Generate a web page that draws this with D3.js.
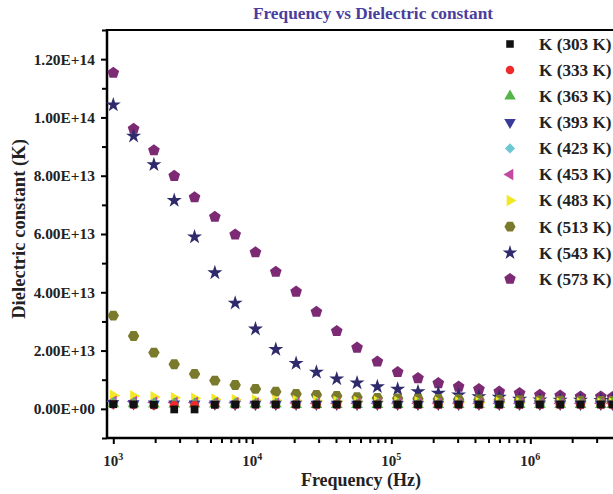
<!DOCTYPE html>
<html>
<head>
<meta charset="utf-8">
<script src="https://cdn.jsdelivr.net/npm/d3@7"></script>
<style>
  body { margin: 0; background: #fff; }
  svg text { font-family: "Times New Roman", "Liberation Serif", serif; font-weight: bold; }
</style>
</head>
<body>
<script>
(function(){

    //frequency points (Hz)
    var freqs = [1000, 1400, 1960, 2744, 3842, 5378, 7530, 10541, 14758, 20661, 28925, 40496, 56694,
        79371, 111120, 155568, 217795, 304913, 426879, 597630, 836683, 1171356, 1639898, 2295857, 3214200, 3900000];

    //dielectric constant values, in units of 1e12
    var UNIT = 1e12;
    var k303 = [1.6, 1.5, 1.4, -0.2, -0.2, 1.4, 1.5, 1.5, 1.5, 1.5, 1.5, 1.5, 1.5, 1.5, 1.5, 1.5, 1.5, 1.5, 1.5, 1.5, 1.5, 1.5, 1.5, 1.5, 1.5, 1.5];
    var k333 = [1.5, 1.4, 1.2, 1.3, 1.3, 1.4, 1.4, 1.4, 1.4, 1.4, 1.4, 1.4, 1.4, 1.4, 1.4, 1.4, 1.4, 1.4, 1.4, 1.4, 1.4, 1.4, 1.4, 1.4, 1.4, 1.4];
    var k363 = [1.7, 1.7, 1.6, 1.6, 1.6, 1.6, 1.6, 1.6, 1.6, 1.5, 1.5, 1.5, 1.5, 1.5, 1.5, 1.5, 1.5, 1.5, 1.5, 1.5, 1.5, 1.5, 1.5, 1.5, 1.5, 1.5];
    var k393 = [1.9, 1.8, 1.7, 1.7, 1.7, 1.7, 1.6, 1.6, 1.6, 1.6, 1.6, 1.6, 1.6, 1.6, 1.6, 1.6, 1.6, 1.6, 1.6, 1.6, 1.6, 1.6, 1.6, 1.6, 1.6, 1.6];
    var k423 = [2.2, 2.1, 2.0, 1.9, 1.9, 1.8, 1.8, 1.8, 1.8, 1.7, 1.7, 1.7, 1.7, 1.7, 1.7, 1.7, 1.7, 1.7, 1.7, 1.7, 1.7, 1.7, 1.7, 1.7, 1.7, 1.7];
    var k453 = [2.6, 2.5, 2.3, 2.2, 2.2, 2.1, 2.1, 2.0, 2.0, 2.0, 1.9, 1.9, 1.9, 1.9, 1.9, 1.9, 1.9, 1.9, 1.9, 1.9, 1.9, 1.9, 1.9, 1.9, 1.9, 1.9];
    var k483 = [4.6, 4.4, 4.1, 3.8, 3.6, 3.3, 3.1, 3.0, 2.9, 2.8, 2.7, 2.6, 2.5, 2.5, 2.4, 2.4, 2.3, 2.3, 2.2, 2.2, 2.1, 2.1, 2.0, 2.0, 2.0, 2.0];
    var k513 = [32.0, 25.0, 19.3, 15.3, 12.0, 9.7, 8.2, 6.85, 5.9, 5.1, 4.8, 4.45, 4.0, 3.7, 3.6, 3.5, 3.4, 3.3, 3.2, 3.1, 3.0, 2.9, 2.8, 2.8, 2.7, 2.7];
    var k543 = [104.3, 93.6, 83.8, 71.5, 59.0, 46.7, 36.3, 27.4, 20.4, 15.6, 12.6, 10.3, 8.9, 7.6, 6.75, 5.9, 5.4, 4.8, 4.2, 4.0, 3.3, 3.1, 3.0, 3.0, 2.9, 2.9];
    var k573 = [115.3, 96.1, 88.7, 79.9, 72.6, 65.9, 59.8, 53.7, 47.0, 40.2, 33.3, 26.7, 21.0, 16.2, 12.6, 10.5, 8.8, 7.6, 6.75, 5.9, 5.4, 4.8, 4.55, 4.2, 4.2, 4.0];

    var seriesNames = ["K (303 K)", "K (333 K)", "K (363 K)", "K (393 K)", "K (423 K)",
        "K (453 K)", "K (483 K)", "K (513 K)", "K (543 K)", "K (573 K)"];
    var seriesValues = [k303, k333, k363, k393, k423, k453, k483, k513, k543, k573];

    //tick values
    var yMajorTicks = [0, 2e13, 4e13, 6e13, 8e13, 1e14, 1.2e14];
    var yMinorTicks = [-1e13, 1e13, 3e13, 5e13, 7e13, 9e13, 1.1e14, 1.3e14];
    var xMajorTicks = [1e3, 1e4, 1e5, 1e6];

    //marker styles: [shape, rotation, colour]
    var markerStyles = [
        ["square", 0, "#111111"],
        ["circle", 0, "#ee2a2a"],
        ["triangle", 0, "#55b44a"],
        ["triangle", 180, "#3b3a98"],
        ["diamond", 0, "#6ec8d2"],
        ["triangle", -90, "#c24aa0"],
        ["triangle", 90, "#f2e824"],
        ["hexagon", 0, "#7a7a2c"],
        ["star", 0, "#2f2a6c"],
        ["pentagon", 0, "#7c2a74"]
    ];

    var width = 613, height = 494;
    var margin = {left: 107, top: 30, right: 650, bottom: 438};

    var svg = d3.select("body").append("svg")
        .attr("width", width)
        .attr("height", height);

    var x = d3.scaleLog()
        .domain([901, 7.26e6])
        .range([margin.left, margin.right]);

    var y = d3.scaleLinear()
        .domain([-1e13, 1.3e14])
        .range([margin.bottom, margin.top]);

    //regular polygon symbol type
    function polygonType(n, rot){
        return {
            draw: function(context, size){
                var r = Math.sqrt(size / (0.5 * n * Math.sin(2 * Math.PI / n)));
                for (var i = 0; i < n; i++){
                    var a = rot + i * 2 * Math.PI / n;
                    var px = r * Math.sin(a), py = -r * Math.cos(a);
                    if (i == 0) context.moveTo(px, py); else context.lineTo(px, py);
                }
                context.closePath();
            }
        };
    }

    function symbolFor(shape, size){
        var t;
        if (shape == "square") t = d3.symbolSquare;
        else if (shape == "circle") t = d3.symbolCircle;
        else if (shape == "triangle") t = polygonType(3, 0);
        else if (shape == "diamond") t = polygonType(4, 0);
        else if (shape == "hexagon") t = polygonType(6, Math.PI / 6);
        else if (shape == "pentagon") t = polygonType(5, 0);
        else t = d3.symbolStar;
        return d3.symbol().type(t).size(size)();
    }

    var sizes = {square: 60, circle: 60, triangle: 60, diamond: 55, hexagon: 85, pentagon: 90, star: 70};

    //axes
    function sciFormat(v){
        var s = d3.format(".2e")(v).toUpperCase();
        return s.replace(/E([+-])(\d)$/, "E$10$2");
    }

    var yAxis = svg.append("g")
        .attr("transform", "translate(" + margin.left + ",0)")
        .call(d3.axisLeft(y).tickValues(yMajorTicks).tickSize(6).tickPadding(6).tickFormat(sciFormat));
    yAxis.select(".domain").remove();
    yAxis.selectAll("line").attr("stroke", "#000").attr("stroke-width", 2);
    yAxis.selectAll("text").attr("font-size", "15.4px").attr("fill", "#222")
        .style("font-family", "'Times New Roman', 'Liberation Serif', serif").style("font-weight", "bold");

    var yMinor = svg.append("g")
        .attr("transform", "translate(" + margin.left + ",0)")
        .call(d3.axisLeft(y).tickValues(yMinorTicks).tickSize(5).tickFormat(""));
    yMinor.select(".domain").remove();
    yMinor.selectAll("line").attr("stroke", "#000").attr("stroke-width", 2);

    var xMinorTicks = [];
    [1e2, 1e3, 1e4, 1e5, 1e6].forEach(function(d){
        for (var m = 2; m < 10; m++) xMinorTicks.push(d * m);
    });
    xMinorTicks = xMinorTicks.filter(function(v){ return v > x.domain()[0] && v < x.domain()[1]; });

    var xMinor = svg.append("g")
        .attr("transform", "translate(0," + margin.bottom + ")")
        .call(d3.axisBottom(x).tickValues(xMinorTicks).tickSize(5).tickFormat(""));
    xMinor.select(".domain").remove();
    xMinor.selectAll("line").attr("stroke", "#000").attr("stroke-width", 2);

    var xAxis = svg.append("g")
        .attr("transform", "translate(0," + margin.bottom + ")")
        .call(d3.axisBottom(x).tickValues(xMajorTicks).tickSize(6).tickFormat(""));
    xAxis.select(".domain").remove();
    xAxis.selectAll("line").attr("stroke", "#000").attr("stroke-width", 2);

    //power-of-ten labels
    var xLabels = svg.append("g").selectAll("text")
        .data(xMajorTicks)
        .enter()
        .append("text")
        .attr("x", function(d){ return x(d); })
        .attr("y", 466)
        .attr("text-anchor", "middle")
        .attr("font-size", "15px")
        .attr("fill", "#222");
    xLabels.append("tspan").text("10");
    xLabels.append("tspan")
        .attr("dy", -6)
        .attr("font-size", "10px")
        .text(function(d){ return Math.round(Math.log10(d)); });

    //frame
    svg.append("line")
        .attr("x1", margin.left).attr("x2", margin.left)
        .attr("y1", margin.top - 1).attr("y2", margin.bottom + 1)
        .attr("stroke", "#000").attr("stroke-width", 2.5);
    svg.append("line")
        .attr("x1", margin.left).attr("x2", width)
        .attr("y1", margin.top).attr("y2", margin.top)
        .attr("stroke", "#000").attr("stroke-width", 2);
    svg.append("line")
        .attr("x1", margin.left).attr("x2", width)
        .attr("y1", margin.bottom).attr("y2", margin.bottom)
        .attr("stroke", "#000").attr("stroke-width", 2.5);

    //data points, highest temperature drawn first
    for (var s = seriesValues.length - 1; s >= 0; s--){
        var st = markerStyles[s];
        var pts = freqs.map(function(f, i){ return {f: f, v: seriesValues[s][i] * UNIT}; });
        svg.append("g").selectAll("path")
            .data(pts)
            .enter()
            .append("path")
            .attr("d", symbolFor(st[0], sizes[st[0]]))
            .attr("transform", function(d){
                return "translate(" + x(d.f) + "," + y(d.v) + ") rotate(" + st[1] + ")";
            })
            .attr("fill", st[2]);
    }

    //legend
    var legend = svg.append("g").selectAll("g")
        .data(seriesNames)
        .enter()
        .append("g")
        .attr("transform", function(d, i){ return "translate(510," + (44 + i * 26.1) + ")"; });
    legend.append("path")
        .attr("d", function(d, i){ var sh = markerStyles[i][0]; return symbolFor(sh, sizes[sh] * 0.95); })
        .attr("transform", function(d, i){ return "rotate(" + markerStyles[i][1] + ")"; })
        .attr("fill", function(d, i){ return markerStyles[i][2]; });
    legend.append("text")
        .attr("x", 29)
        .attr("y", 5.8)
        .attr("font-size", "17.2px")
        .attr("fill", "#222")
        .text(function(d){ return d; });

    //titles
    svg.append("text")
        .attr("x", 373)
        .attr("y", 19)
        .attr("text-anchor", "middle")
        .attr("font-size", "17.3px")
        .attr("fill", "#4b3d9c")
        .text("Frequency vs Dielectric constant");

    svg.append("text")
        .attr("x", 361)
        .attr("y", 486)
        .attr("text-anchor", "middle")
        .attr("font-size", "18px")
        .attr("fill", "#222")
        .text("Frequency (Hz)");

    svg.append("text")
        .attr("transform", "translate(25,229) rotate(-90)")
        .attr("text-anchor", "middle")
        .attr("font-size", "18.6px")
        .attr("fill", "#222")
        .text("Dielectric constant (K)");

})();
</script>
</body>
</html>
